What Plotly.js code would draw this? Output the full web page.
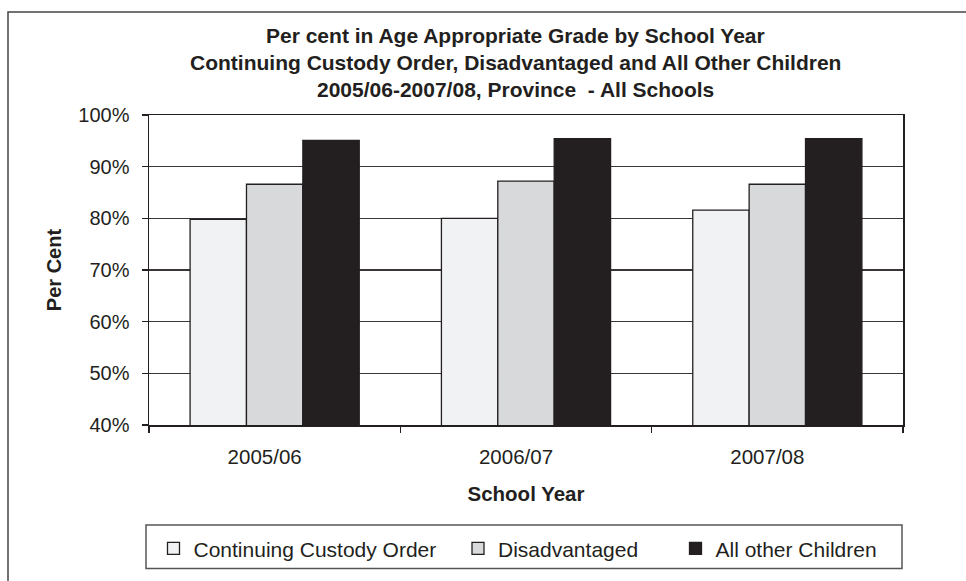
<!DOCTYPE html>
<html>
<head>
<meta charset="utf-8">
<script src="https://cdn.plot.ly/plotly-3.0.1.min.js"></script>
<style>html,body{margin:0;padding:0;background:#fff;}#chart{width:966px;height:581px;}</style>
</head>
<body>
<div id="chart"></div>
<script>
var years = ["2005/06", "2006/07", "2007/08"];
var seriesNames = ["Continuing Custody Order", "Disadvantaged", "All other Children"];
var ccoValues = [79.8, 80.0, 81.6];
var disadvantagedValues = [86.6, 87.2, 86.6];
var allOtherValues = [95.1, 95.4, 95.4];
var yTickVals = [40, 50, 60, 70, 80, 90, 100];
var yTickText = ["40%", "50%", "60%", "70%", "80%", "90%", "100%"];
var titleLines = [
  "Per cent in Age Appropriate Grade by School Year",
  "Continuing Custody Order, Disadvantaged and All Other Children",
  "2005/06-2007/08, Province  - All Schools"
];

var FONT = "Liberation Sans, Arial, Helvetica, sans-serif";
var fills = ["#f1f2f3", "#d8d9da", "#231f20"];
var values = [ccoValues, disadvantagedValues, allOtherValues];
var legendIds = ["legend", "legend2", "legend3"];

var traces = seriesNames.map(function (n, i) {
  return {
    type: "bar",
    name: n,
    x: years,
    y: values[i],
    legend: legendIds[i],
    marker: { color: fills[i], line: { color: "#231f20", width: 1.3 } },
    hoverinfo: "x+y+name"
  };
});

// pixel helpers for paper coordinates
var L = 149, R = 903, T = 115, B = 428;
function px(x) { return (x - L) / (R - L); }
function py(y) { return (B - y) / (B - T); }

var annotations = titleLines.map(function (t, i) {
  return {
    text: "<b>" + t + "</b>",
    xref: "paper", yref: "paper",
    x: px(515.5), y: py(35 + i * 27),
    xanchor: "center", yanchor: "middle",
    showarrow: false,
    font: { family: FONT, size: 21, color: "#231f20" }
  };
});

function legendAt(xpx) {
  return {
    orientation: "h",
    x: px(xpx), xanchor: "left",
    y: py(553), yanchor: "middle",
    font: { family: FONT, size: 21, color: "#231f20" },
    bgcolor: "rgba(0,0,0,0)",
    borderwidth: 0
  };
}

var layout = {
  width: 966, height: 581,
  margin: { l: L, r: 966 - R, t: T, b: 581 - B },
  paper_bgcolor: "#ffffff",
  plot_bgcolor: "#ffffff",
  font: { family: FONT, size: 20, color: "#231f20" },
  barmode: "group",
  bargap: 0.327,
  bargroupgap: 0,
  showlegend: true,
  legend: legendAt(153.5),
  legend2: legendAt(458),
  legend3: legendAt(675.5),
  xaxis: {
    type: "category",
    showline: true, linecolor: "#231f20", linewidth: 1.5, mirror: true,
    ticks: "outside", ticklen: 6, tickcolor: "#231f20", tickwidth: 1.3,
    tickson: "boundaries",
    ticklabelstandoff: 13,
    ticklabelshift: -10,
    showgrid: false, zeroline: false,
    tickfont: { family: FONT, size: 20.5, color: "#231f20" },
    title: { text: "<b>School Year</b>", standoff: 19, font: { family: FONT, size: 20.5, color: "#231f20" } },
    automargin: false
  },
  yaxis: {
    range: [40, 100],
    tickvals: yTickVals, ticktext: yTickText,
    showline: true, linecolor: "#231f20", linewidth: 1.5, mirror: true,
    ticks: "outside", ticklen: 6, tickcolor: "#231f20", tickwidth: 1.3,
    ticklabelstandoff: 8,
    showgrid: true, gridcolor: "#3a3637", gridwidth: 1.2,
    zeroline: false,
    tickfont: { family: FONT, size: 20, color: "#231f20" },
    title: { text: "<b>Per Cent</b>", standoff: 11, font: { family: FONT, size: 20, color: "#231f20" } },
    automargin: false
  },
  annotations: annotations,
  shapes: [
    { type: "rect", xref: "paper", yref: "paper", layer: "below",
      x0: px(8), x1: px(975), y0: py(590), y1: py(11),
      line: { color: "#444444", width: 1.5 }, fillcolor: "rgba(0,0,0,0)" },
    { type: "rect", xref: "paper", yref: "paper", layer: "below",
      x0: px(146), x1: px(902), y0: py(573), y1: py(529),
      line: { color: "#555555", width: 1.5 }, fillcolor: "rgba(0,0,0,0)" }
  ]
};

Plotly.newPlot("chart", traces, layout, { displayModeBar: false, staticPlot: true });
</script>
</body>
</html>
